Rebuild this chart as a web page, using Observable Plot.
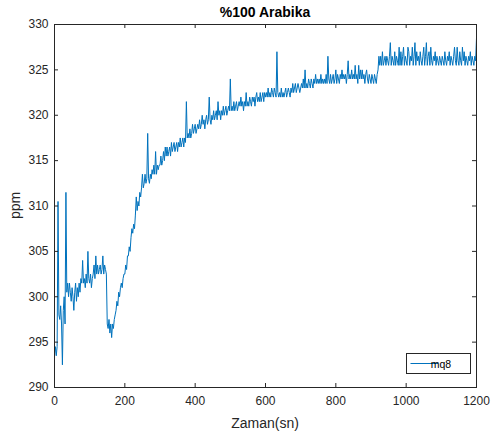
<!DOCTYPE html>
<html>
<head>
<meta charset="utf-8">
<script src="https://cdn.jsdelivr.net/npm/d3@7"></script>
<script src="https://cdn.jsdelivr.net/npm/@observablehq/plot@0.6"></script>
<style>
  html, body { margin: 0; padding: 0; background: #fff; }
  #chart { width: 493px; height: 438px; }
</style>
</head>
<body>
<div id="chart"></div>
<script>
const title = "%100 Arabika";
const xLabel = "Zaman(sn)";
const yLabel = "ppm";
const seriesName = "mq8";
const sampleStep = 2.5; // seconds between samples
const xTicks = [0, 200, 400, 600, 800, 1000, 1200];
const yTicks = [290, 295, 300, 305, 310, 315, 320, 325, 330];
const ppm = [
  // 0 - 97.5 s
  293.5, 294.5, 293.5, 294.5, 310.5, 298, 297.5, 299, 297, 292.5,
  298.5, 300, 297, 311.5, 300.5, 301.5, 300, 301.5, 300.5, 299.5,
  301, 300, 298.5, 300.5, 301.5, 299.5, 301, 300, 301.5, 300.5,
  302, 301.5, 304, 301.5, 302, 301, 302.5, 301.5, 305, 302,
  // 100 - 197.5 s
  301.5, 302.5, 301, 302, 302.5, 303.5, 302, 304.5, 302.5, 303.5,
  302.5, 303, 303.5, 302.5, 303, 304.5, 302.5, 303.5, 303, 302.5,
  297, 296.5, 297.5, 296, 297, 295.5, 297, 296.5, 297.5, 298,
  298.5, 299.5, 299, 300.5, 300, 301, 301.5, 301, 302, 302.5,
  // 200 - 297.5 s
  302.5, 303.5, 303, 304.5, 304.5, 305.5, 305, 306.5, 307.5, 307,
  308, 307.5, 309, 311, 309.5, 310.5, 310, 311.5, 311, 312,
  313.5, 312, 312.5, 313.5, 312.5, 313, 318, 313, 312.5, 313.5,
  313, 314, 313.5, 314.5, 313.5, 316, 313.5, 314.5, 314, 314.5,
  // 300 - 397.5 s
  314.5, 315.5, 314.5, 315, 316, 315, 316.5, 315.5, 316.5, 315.5,
  316, 316.5, 315.5, 317, 316, 316.5, 317, 316, 316.5, 317,
  316, 317, 316.5, 317.5, 316.5, 317, 317.5, 316.5, 317.5, 317,
  321.5, 317.5, 318, 317.5, 318.5, 317.5, 318, 319, 318, 318.5,
  // 400 - 497.5 s
  319, 318, 318.5, 319, 318.5, 319.5, 318.5, 319, 320, 319,
  319.5, 318.5, 319.5, 320, 319, 319.5, 322, 319.5, 319, 320,
  319.5, 320.5, 319.5, 320, 320.5, 319.5, 321.5, 320, 320.5, 319.5,
  320.5, 320, 321, 320, 320.5, 321, 320, 320.5, 321, 320.5,
  // 500 - 597.5 s
  324, 320.5, 321, 320.5, 321.5, 320.5, 321, 321.5, 320.5, 321,
  321.5, 321, 322, 321, 321.5, 320.5, 321.5, 321, 322.5, 321,
  321.5, 321, 322, 321.5, 321, 322, 321.5, 322, 321, 322,
  322.5, 321.5, 322, 321.5, 322.5, 321.5, 322, 322.5, 321.5, 322.5,
  // 600 - 697.5 s
  322, 322.5, 322, 323, 322, 322.5, 322, 323, 322.5, 322,
  323, 322.5, 322, 327, 322.5, 322, 322.5, 322, 323, 322,
  322.5, 322, 322.5, 323, 322, 322.5, 323, 322.5, 322, 323,
  322.5, 323.5, 322.5, 323, 323.5, 322.5, 323, 323.5, 323, 322.5,
  // 700 - 797.5 s
  323, 323.5, 323, 324, 323, 325, 323, 323.5, 323, 324,
  323.5, 323, 324, 323.5, 323, 324, 323.5, 324.5, 323.5, 324,
  323.5, 324, 323.5, 324.5, 323.5, 324, 323.5, 324, 323.5, 324.5,
  323.5, 326.5, 324, 323.5, 324.5, 323.5, 324, 324.5, 323.5, 324,
  // 800 - 897.5 s
  325, 323.5, 324.5, 324, 323.5, 324.5, 324, 325, 324, 324.5,
  324, 324.5, 323.5, 324.5, 326, 324, 324.5, 324, 325, 324,
  324.5, 324, 325.5, 324, 324.5, 323.5, 325.5, 324, 325, 324,
  325, 324, 324.5, 323.5, 324.5, 325, 324, 323.5, 324.5, 324,
  // 900 - 997.5 s
  323.5, 324.5, 324, 323.5, 324.5, 324, 323.5, 324.5, 325, 326.5,
  325.5, 326.5, 325.5, 327, 325.5, 326, 326.5, 325.5, 326.5, 326,
  325.5, 326.5, 328, 325.5, 326.5, 326, 325.5, 327, 325.5, 326.5,
  326, 325.5, 327.5, 325.5, 327, 325.5, 326.5, 327.5, 325.5, 326.5,
  // 1000 - 1097.5 s
  326, 325.5, 327.5, 327, 325.5, 326.5, 326, 327.5, 325.5, 326.5,
  328, 325.5, 327, 326, 326.5, 325.5, 327, 326, 325.5, 326.5,
  327.5, 325.5, 326.5, 328, 325.5, 326.5, 327, 325.5, 327.5, 326,
  325.5, 326.5, 326, 327, 325.5, 326.5, 326, 325.5, 326.5, 326,
  // 1100 - 1197.5 s
  325.5, 326.5, 326, 325.5, 327, 326, 325.5, 326.5, 326, 327,
  325.5, 326.5, 326, 325.5, 326.5, 327.5, 326, 325.5, 327.5, 326,
  325.5, 327, 326, 325.5, 327.5, 326, 327, 325.5, 326.5, 326,
  325.5, 326.5, 326, 327, 325.5, 326.5, 326, 325.5, 326.5, 326,
  // 1200 s
  328.5
];

const data = ppm.map((v, i) => ({t: i * sampleStep, v}));

const W = 493, H = 438;
const mL = 54, mR = 17, mT = 24, mB = 51;
const fw = W - mL - mR, fh = H - mT - mB;
const tickLen = 4;
const axisColor = "#262626";
const font = "'Liberation Sans', Arial, Helvetica, sans-serif";

const plot = Plot.plot({
  width: W, height: H,
  marginLeft: mL, marginRight: mR, marginTop: mT, marginBottom: mB,
  style: {fontFamily: font, fontSize: "12px", color: axisColor, background: "#fff", overflow: "visible"},
  x: {domain: [0, 1200]},
  y: {domain: [290, 330]},
  marks: [
    Plot.line(data, {x: "t", y: "v", stroke: "#0072BD", strokeWidth: 1}),
    Plot.frame({stroke: axisColor, strokeWidth: 1}),
    Plot.tickX(xTicks, {x: d => d, insetTop: fh - tickLen, stroke: axisColor}),
    Plot.tickX(xTicks, {x: d => d, insetBottom: fh - tickLen, stroke: axisColor}),
    Plot.tickY(yTicks, {y: d => d, insetRight: fw - tickLen, stroke: axisColor}),
    Plot.tickY(yTicks, {y: d => d, insetLeft: fw - tickLen, stroke: axisColor}),
    Plot.axisX(xTicks, {tickSize: 0, tickPadding: 9, tickFormat: d => String(d), label: null, fontSize: 12, fill: axisColor}),
    Plot.axisY(yTicks, {tickSize: 0, tickPadding: 6, tickFormat: d => String(d), label: null, fontSize: 12, fill: axisColor})
  ]
});

document.getElementById("chart").appendChild(plot);

const svg = d3.select(plot);
const cx = mL + fw / 2;
svg.append("text")
  .attr("x", cx).attr("y", 17)
  .attr("text-anchor", "middle")
  .attr("font-family", font).attr("font-size", 14).attr("font-weight", "bold")
  .attr("fill", "#000")
  .text(title);
svg.append("text")
  .attr("x", cx).attr("y", 428)
  .attr("text-anchor", "middle")
  .attr("font-family", font).attr("font-size", 14)
  .attr("fill", axisColor)
  .text(xLabel);
svg.append("text")
  .attr("transform", `translate(20,${mT + fh / 2}) rotate(-90)`)
  .attr("text-anchor", "middle")
  .attr("font-family", font).attr("font-size", 14)
  .attr("fill", axisColor)
  .text(yLabel);

// legend
const lg = svg.append("g");
lg.append("rect")
  .attr("x", 406.5).attr("y", 353.5).attr("width", 64).attr("height", 20)
  .attr("fill", "#fff").attr("stroke", axisColor).attr("stroke-width", 1);
lg.append("line")
  .attr("x1", 410.5).attr("x2", 438).attr("y1", 363.5).attr("y2", 363.5)
  .attr("stroke", "#0072BD").attr("stroke-width", 1);
lg.append("text")
  .attr("x", 441).attr("y", 367.5)
  .attr("font-family", font).attr("font-size", 10.5)
  .attr("fill", "#000")
  .text(seriesName);
</script>
</body>
</html>
